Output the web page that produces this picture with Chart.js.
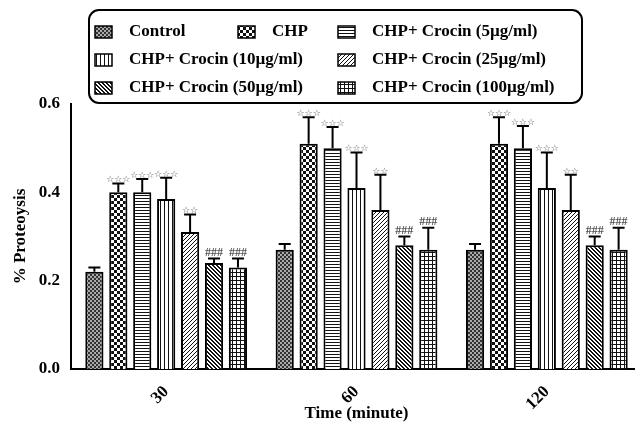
<!DOCTYPE html>
<html>
<head>
<meta charset="utf-8">
<script src="https://cdn.jsdelivr.net/npm/chart.js@4/dist/chart.umd.min.js"></script>
<style>
  html, body { margin: 0; padding: 0; background: #fff; overflow: hidden; }
  #wrap { width: 635px; height: 426px; overflow: hidden; }
</style>
</head>
<body>
<div id="wrap"><canvas id="bar-chart" width="642" height="426"></canvas></div>
<script>

const timeLabels = ['30', '60', '120'];

const groupNames = ['Control', 'CHP', 'CHP+ Crocin (5\u00b5g/ml)', 'CHP+ Crocin (10\u00b5g/ml)',
    'CHP+ Crocin (25\u00b5g/ml)', 'CHP+ Crocin (50\u00b5g/ml)', 'CHP+ Crocin (100\u00b5g/ml)'];

// mean values per group, one entry per time point
const controlVals = [0.22, 0.27, 0.27];
const chpVals = [0.40, 0.51, 0.51];
const crocin5Vals = [0.40, 0.50, 0.50];
const crocin10Vals = [0.385, 0.41, 0.41];
const crocin25Vals = [0.31, 0.36, 0.36];
const crocin50Vals = [0.24, 0.28, 0.28];
const crocin100Vals = [0.23, 0.27, 0.27];

// upper error (SD)
const controlErr = [0.01, 0.013, 0.013];
const chpErr = [0.02, 0.06, 0.06];
const crocin5Err = [0.03, 0.048, 0.05];
const crocin10Err = [0.048, 0.08, 0.08];
const crocin25Err = [0.04, 0.08, 0.08];
const crocin50Err = [0.01, 0.02, 0.02];
const crocin100Err = [0.02, 0.05, 0.05];

// significance marks above each group
const signifMarks = ['', '***', '***', '***', '**', '###', '###'];

const yTicks = [0.0, 0.2, 0.4, 0.6];

const allVals = [controlVals, chpVals, crocin5Vals, crocin10Vals, crocin25Vals, crocin50Vals, crocin100Vals];
const allErr = [controlErr, chpErr, crocin5Err, crocin10Err, crocin25Err, crocin50Err, crocin100Err];


function makePattern(kind) {
    const c = document.createElement('canvas');
    let n = 4;
    if (kind === 'checker') n = 6;
    if (kind === 'hlines') n = 3;
    c.width = n; c.height = n;
    const g = c.getContext('2d');
    g.fillStyle = '#fff';
    g.fillRect(0, 0, n, n);
    g.fillStyle = '#111';
    if (kind === 'fine') {
        g.fillStyle = '#333';
        g.fillRect(0, 0, 2, 2);
        g.fillRect(2, 2, 2, 2);
        g.fillStyle = '#aaa';
        g.fillRect(2, 0, 2, 2);
        g.fillRect(0, 2, 2, 2);
    } else if (kind === 'checker') {
        g.fillRect(0, 0, 3, 3);
        g.fillRect(3, 3, 3, 3);
    } else if (kind === 'hlines') {
        g.fillRect(0, 0, n, 1);
    } else if (kind === 'vlines') {
        g.fillRect(0, 0, 1, n);
    } else if (kind === 'fwd') {
        for (let i = 0; i < n; i++) {
            g.fillRect(i, n - 1 - i, 1, 1);
        }
    } else if (kind === 'back') {
        for (let i = 0; i < n; i++) {
            g.fillRect(i, i, 1, 1);
            g.fillRect(i, (i + 1) % n, 1, 1);
        }
    } else if (kind === 'grid') {
        g.fillRect(0, 0, n, 1);
        g.fillRect(0, 0, 1, n);
    }
    return g.createPattern(c, 'repeat');
}

const patternKinds = ['fine', 'checker', 'hlines', 'vlines', 'fwd', 'back', 'grid'];
const patterns = patternKinds.map(makePattern);


// error bars + significance text
const errorBarsPlugin = {
    id: 'errorBars',
    afterDatasetsDraw(chart) {
        const ctx = chart.ctx;
        const yScale = chart.scales.y;
        chart.data.datasets.forEach((ds, i) => {
            const meta = chart.getDatasetMeta(i);
            meta.data.forEach((bar, j) => {
                const top = yScale.getPixelForValue(allVals[i][j] + allErr[i][j]);
                ctx.save();
                ctx.strokeStyle = '#000';
                ctx.lineWidth = 2;
                ctx.beginPath();
                ctx.moveTo(bar.x, bar.y);
                ctx.lineTo(bar.x, top);
                ctx.moveTo(bar.x - 6, top);
                ctx.lineTo(bar.x + 6, top);
                ctx.stroke();

                const mark = signifMarks[i];
                if (mark) {
                    ctx.textAlign = 'center';
                    ctx.textBaseline = 'bottom';
                    if (mark[0] === '*') {
                        ctx.font = '9px "DejaVu Sans"';
                        ctx.fillStyle = '#555';
                        ctx.fillText('\u2606'.repeat(mark.length), bar.x, top + 1);
                    } else {
                        ctx.font = 'bold 12px "Liberation Serif"';
                        ctx.fillStyle = '#555';
                        ctx.fillText(mark, bar.x, top);
                    }
                }
                ctx.restore();
            });
        });
    }
};


// boxed legend laid out like the figure
const boxLegendPlugin = {
    id: 'boxLegend',
    afterDraw(chart) {
        const ctx = chart.ctx;
        const spots = [[95, 32], [238, 32], [338, 32], [95, 60], [338, 60], [95, 88], [338, 88]];
        ctx.save();
        ctx.strokeStyle = '#000';
        ctx.lineWidth = 2;
        ctx.beginPath();
        ctx.roundRect(89, 10, 493, 93, 10);
        ctx.stroke();

        ctx.font = 'bold 17px "Liberation Serif"';
        ctx.textBaseline = 'middle';
        ctx.textAlign = 'left';
        chart.data.datasets.forEach((ds, i) => {
            const [x, y] = spots[i];
            ctx.fillStyle = ds.backgroundColor;
            ctx.fillRect(x, y - 6, 17, 12);
            ctx.lineWidth = 1.5;
            ctx.strokeRect(x, y - 6, 17, 12);
            ctx.fillStyle = '#000';
            ctx.fillText(ds.label, x + 34, y);
        });
        ctx.restore();
    }
};


const ctx = document.getElementById('bar-chart').getContext('2d');

new Chart(ctx, {
    type: 'bar',
    data: {
        labels: timeLabels,
        datasets: groupNames.map((name, i) => ({
            label: name,
            data: allVals[i],
            backgroundColor: patterns[i],
            borderColor: '#000',
            borderWidth: 2,
            categoryPercentage: 0.88,
            barPercentage: 0.76
        }))
    },
    options: {
        responsive: false,
        animation: false,
        devicePixelRatio: 1,
        layout: { padding: { top: 104, left: 0, right: 0, bottom: 0 } },
        plugins: {
            legend: { display: false },
            tooltip: { enabled: false }
        },
        scales: {
            x: {
                grid: { display: false, drawTicks: true, tickLength: 6, tickWidth: 2, tickColor: '#000' },
                border: { color: '#000', width: 2 },
                ticks: {
                    color: '#000',
                    font: { family: 'Liberation Serif', size: 17, weight: 'bold' },
                    minRotation: 45,
                    maxRotation: 45,
                    padding: 7
                },
                title: {
                    display: true,
                    text: 'Time (minute)',
                    color: '#000',
                    font: { family: 'Liberation Serif', size: 17, weight: 'bold' },
                    padding: { top: 0, bottom: 2 }
                },
                afterFit(scale) { scale.height = 57; }
            },
            y: {
                min: 0,
                max: 0.6,
                afterBuildTicks(scale) { scale.ticks = yTicks.map(v => ({ value: v })); },
                grid: { display: false, drawTicks: true, tickLength: 6, tickWidth: 2, tickColor: '#000' },
                border: { color: '#000', width: 2 },
                ticks: {
                    color: '#000',
                    font: { family: 'Liberation Serif', size: 17, weight: 'bold' },
                    padding: 5,
                    callback: (v) => Number(v).toFixed(1)
                },
                title: {
                    display: true,
                    text: '% Proteoysis',
                    color: '#000',
                    font: { family: 'Liberation Serif', size: 17, weight: 'bold' },
                    padding: { top: 10, bottom: 0 }
                },
                afterFit(scale) { scale.width = 71; }
            }
        }
    },
    plugins: [errorBarsPlugin, boxLegendPlugin]
});

</script>
</body>
</html>
